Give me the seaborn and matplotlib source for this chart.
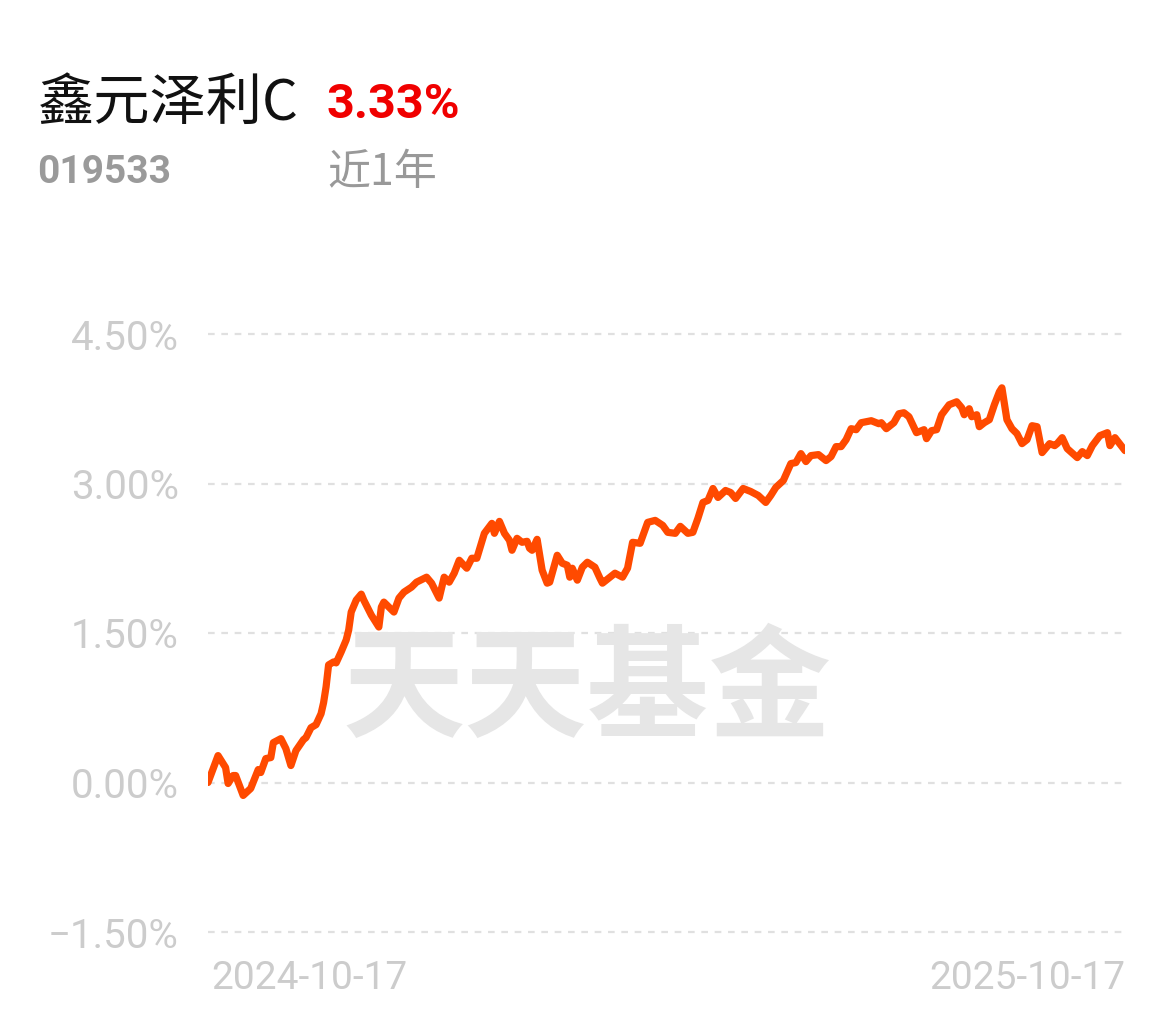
import numpy as np
import pandas as pd
import matplotlib
matplotlib.use("Agg")
import matplotlib.pyplot as plt
import matplotlib.transforms as mtransforms
import seaborn as sns

# ---------------- data ----------------
fund_name = "鑫元泽利C"
fund_code = "019533"
period_label = "近1年"
period_return = "3.33%"
start_date = "2024-10-17"
end_date = "2025-10-17"

# days since start date
day_offsets = [
    0, 4, 7, 8, 10, 11, 14, 17, 20, 21, 23, 25, 26, 29, 31, 33, 35, 38, 39, 41,
    43, 45, 46, 47, 48, 50, 51, 53, 55, 56, 57, 59, 61, 62, 65, 68, 69, 70, 72, 74,
    76, 78, 81, 83, 87, 89, 92, 94, 96, 98, 100, 103, 105, 107, 110, 113, 114, 116, 118, 120,
    121, 123, 125, 127, 128, 129, 131, 133, 135, 136, 137, 139, 141, 143, 144, 145, 147, 149, 151, 154,
    156, 157, 160, 162, 165, 167, 169, 172, 175, 178, 181, 183, 186, 188, 191, 193, 195, 197, 199, 201,
    203, 206, 208, 210, 213, 216, 219, 222, 224, 226, 229, 232, 234, 236, 238, 240, 243, 246, 248, 250,
    252, 254, 256, 258, 260, 264, 267, 268, 270, 273, 275, 277, 279, 282, 285, 286, 288, 290, 292, 295,
    298, 300, 301, 303, 304, 306, 307, 309, 311, 313, 315, 316, 318, 320, 322, 324, 326, 328, 330, 332,
    335, 337, 338, 340, 342, 346, 348, 350, 352, 355, 358, 359, 361, 365,
]
# cumulative return, percent
returns_pct = [
    0.00, 0.27, 0.15, -0.01, 0.07, 0.07, -0.13, -0.06, 0.13, 0.10, 0.24, 0.25, 0.40, 0.44, 0.34, 0.17, 0.32, 0.43, 0.45, 0.55,
    0.58, 0.69, 0.80, 0.96, 1.18, 1.21, 1.20, 1.31, 1.43, 1.53, 1.71, 1.83, 1.89, 1.83, 1.68, 1.56, 1.76, 1.81, 1.76, 1.71,
    1.85, 1.91, 1.96, 2.01, 2.06, 2.00, 1.85, 2.06, 2.01, 2.10, 2.23, 2.15, 2.25, 2.25, 2.50, 2.60, 2.50, 2.62, 2.50, 2.43,
    2.33, 2.45, 2.41, 2.42, 2.35, 2.33, 2.44, 2.13, 2.00, 2.01, 2.10, 2.28, 2.20, 2.18, 2.06, 2.15, 2.03, 2.16, 2.21, 2.16,
    2.05, 2.00, 2.06, 2.10, 2.06, 2.15, 2.41, 2.40, 2.61, 2.63, 2.58, 2.51, 2.50, 2.57, 2.50, 2.51, 2.65, 2.81, 2.83, 2.95,
    2.86, 2.93, 2.91, 2.85, 2.95, 2.92, 2.88, 2.81, 2.88, 2.96, 3.03, 3.20, 3.21, 3.30, 3.22, 3.28, 3.29, 3.23, 3.27, 3.37,
    3.37, 3.44, 3.55, 3.54, 3.61, 3.63, 3.60, 3.61, 3.55, 3.61, 3.70, 3.71, 3.67, 3.51, 3.54, 3.45, 3.53, 3.54, 3.69, 3.79,
    3.82, 3.76, 3.69, 3.75, 3.67, 3.69, 3.57, 3.61, 3.64, 3.79, 3.92, 3.96, 3.64, 3.55, 3.50, 3.40, 3.44, 3.58, 3.57, 3.31,
    3.40, 3.38, 3.40, 3.46, 3.35, 3.26, 3.32, 3.28, 3.38, 3.48, 3.51, 3.38, 3.46, 3.33,
]
y_ticks = [-1.5, 0.0, 1.5, 3.0, 4.5]
y_tick_labels = ["\u22121.50%", "0.00%", "1.50%", "3.00%", "4.50%"]
watermark = "天天基金"

df = pd.DataFrame({
    "date": pd.Timestamp(start_date) + pd.to_timedelta(day_offsets, unit="D"),
    "ret": returns_pct,
})

# ---------------- style ----------------
sns.set_theme(style="white")
plt.rcParams["font.family"] = ["Roboto", "Noto Sans CJK SC", "DejaVu Sans"]
plt.rcParams["axes.unicode_minus"] = True

W, H = 1175, 1022
fig = plt.figure(figsize=(W / 100, H / 100), dpi=100)
fig.patch.set_facecolor("white")

ax_left, ax_right = 208 / W, 1125 / W
ax_bottom, ax_top = 1 - 932 / H, 1 - 334 / H
ax = fig.add_axes([ax_left, ax_bottom, ax_right - ax_left, ax_top - ax_bottom])
ax.set_facecolor("white")

sns.lineplot(data=df, x="date", y="ret", ax=ax, color="#ff4a00",
             linewidth=5.2, zorder=3, solid_joinstyle="round", solid_capstyle="round")

ax.set_ylim(-1.5, 4.5)
ax.set_xlim(pd.Timestamp(start_date), pd.Timestamp(end_date))
ax.set_yticks(y_ticks)
ax.set_yticklabels(y_tick_labels)
ax.set_axisbelow(True)
ax.yaxis.grid(True, linestyle=(0, (3, 3)), color="#e0e0e0", linewidth=1.6, clip_on=False)
ax.xaxis.grid(False)
for s in ax.spines.values():
    s.set_visible(False)
ax.tick_params(axis="y", length=0, pad=21, labelsize=29, labelcolor="#cccccc")
ax.set_xlabel("")
ax.set_ylabel("")

ax.set_xticks([pd.Timestamp(start_date), pd.Timestamp(end_date)])
ax.set_xticklabels([start_date, end_date])
ax.tick_params(axis="x", length=0, pad=20, labelsize=28, labelcolor="#cccccc")
xl = ax.get_xticklabels()
xl[0].set_horizontalalignment("left")
xl[1].set_horizontalalignment("right")
offset = mtransforms.ScaledTranslation(3 / 100, 0, fig.dpi_scale_trans)
xl[0].set_transform(xl[0].get_transform() + offset)

# watermark
ax.text(0.4996, 1 - 692 / H, watermark, transform=fig.transFigure, ha="center", va="center",
        fontsize=88, fontweight="bold", color="#e6e6e6", zorder=1.5,
        family=["Noto Sans CJK SC", "DejaVu Sans"])

# header texts
fig.text(38 / W, 1 - 120 / H, fund_name, ha="left", va="baseline", fontsize=40.5,
         color="#111111", family=["Noto Sans CJK SC", "DejaVu Sans"])
fig.text(327 / W, 1 - 118 / H, period_return, ha="left", va="baseline", fontsize=35,
         fontweight="bold", color="#f00000", family=["Roboto", "DejaVu Sans"])
fig.text(37 / W, 1 - 183 / H, fund_code, ha="left", va="baseline", fontsize=28,
         fontweight="bold", color="#9a9a9a", family=["Roboto", "DejaVu Sans"])
fig.text(327 / W, 1 - 185 / H, period_label, ha="left", va="baseline", fontsize=31,
         color="#999999", family=["Noto Sans CJK SC", "DejaVu Sans"])

fig.savefig("out.png", dpi=100, facecolor="white")
